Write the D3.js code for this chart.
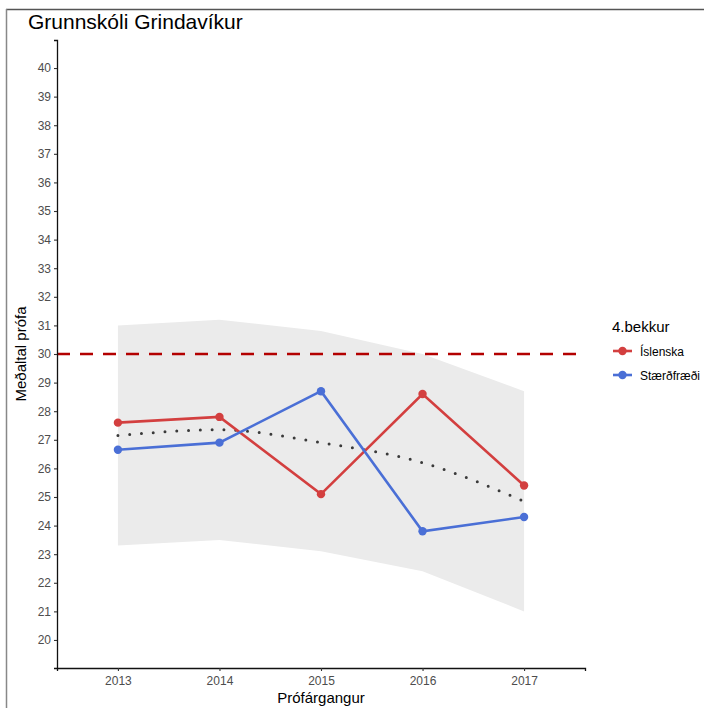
<!DOCTYPE html>
<html>
<head>
<meta charset="utf-8">
<script src="https://cdn.jsdelivr.net/npm/d3@7/dist/d3.min.js"></script>
<style>
  html, body { margin: 0; padding: 0; background: #fff; }
  svg { display: block; font-family: "Liberation Sans", Arial, sans-serif; }
</style>
</head>
<body>
<svg id="chart" width="704" height="708"></svg>
<script>
// ---- data ----
const years = [2013, 2014, 2015, 2016, 2017];
const islenska = [27.6, 27.8, 25.1, 28.6, 25.4];
const staerdfraedi = [26.65, 26.9, 28.7, 23.8, 24.3];
const smoothFit = [27.15, 27.35, 26.9, 26.2, 24.85];
const bandUpper = [31.0, 31.2, 30.8, 30.0, 28.7];
const bandLower = [23.3, 23.5, 23.1, 22.4, 21.0];
const referenceValue = 30;
const yTicks = d3.range(20, 41, 1);
const seriesNames = ["Íslenska", "Stærðfræði"];
const seriesColors = ["#d33f3f", "#4a6fd6"];

(function () {
const svg = d3.select("#chart");

// outer frame (top + left)
svg.append("line").attr("x1", 6).attr("x2", 704).attr("y1", 9.5).attr("y2", 9.5)
  .attr("stroke", "#555").attr("stroke-width", 1.5);
svg.append("line").attr("x1", 6.5).attr("x2", 6.5).attr("y1", 9).attr("y2", 708)
  .attr("stroke", "#888").attr("stroke-width", 1.5);

const pL = 57, pR = 585, pT = 40, pB = 668;
const x = d3.scaleLinear().domain([2012.4, 2017.6]).range([pL, pR]);
const y = d3.scaleLinear().domain([19.02, 40.98]).range([pB, pT]);

// ribbon
const bandData = years.map((yr, i) => ({yr, lo: bandLower[i], hi: bandUpper[i]}));
svg.append("path").datum(bandData)
  .attr("d", d3.area().x(d => x(d.yr)).y0(d => y(d.lo)).y1(d => y(d.hi)))
  .attr("fill", "#ebebeb");

// reference dashed line
svg.append("line")
  .attr("x1", x(2012.4)).attr("x2", x(2017.6))
  .attr("y1", y(referenceValue)).attr("y2", y(referenceValue))
  .attr("stroke", "#b30000").attr("stroke-width", 2.6)
  .attr("stroke-dasharray", "13,10");

// smooth dotted line
const smoothData = years.map((yr, i) => ({yr, v: smoothFit[i]}));
svg.append("path").datum(smoothData)
  .attr("d", d3.line().x(d => x(d.yr)).y(d => y(d.v)).curve(d3.curveMonotoneX))
  .attr("fill", "none").attr("stroke", "#3a3a3a").attr("stroke-width", 3)
  .attr("stroke-linecap", "round").attr("stroke-dasharray", "0,11.8");

// series
[islenska, staerdfraedi].forEach((vals, si) => {
  const data = years.map((yr, i) => ({yr, v: vals[i]}));
  svg.append("path").datum(data)
    .attr("d", d3.line().x(d => x(d.yr)).y(d => y(d.v)))
    .attr("fill", "none").attr("stroke", seriesColors[si]).attr("stroke-width", 2.6);
  svg.selectAll(null).data(data).enter().append("circle")
    .attr("cx", d => x(d.yr)).attr("cy", d => y(d.v)).attr("r", 4.2)
    .attr("fill", seriesColors[si]);
});

// axes
const yAxis = svg.append("g").attr("transform", `translate(${pL},0)`)
  .call(d3.axisLeft(y).tickValues(yTicks).tickSize(3).tickPadding(3).tickFormat(d3.format("d")));
const xAxis = svg.append("g").attr("transform", `translate(0,${pB})`)
  .call(d3.axisBottom(x).tickValues(years).tickSize(3).tickPadding(5).tickFormat(d3.format("d")));
[yAxis, xAxis].forEach(g => {
  g.select(".domain").attr("stroke", "#111").attr("stroke-width", 1.3);
  g.selectAll(".tick line").attr("stroke", "#333").attr("stroke-width", 1.1);
  g.selectAll(".tick text").attr("fill", "#4d4d4d").attr("font-size", 12)
    .attr("font-family", "'Liberation Sans', Arial, sans-serif");
});

// title
svg.append("text").attr("x", 28).attr("y", 29).attr("font-size", 21)
  .attr("fill", "#000").text("Grunnskóli Grindavíkur");

// axis labels
svg.append("text").attr("x", (pL + pR) / 2).attr("y", 703)
  .attr("text-anchor", "middle").attr("font-size", 15).text("Prófárgangur");
svg.append("text").attr("transform", `translate(26,${(pT + pB) / 2}) rotate(-90)`)
  .attr("text-anchor", "middle").attr("font-size", 15).text("Meðaltal prófa");

// legend
const lg = svg.append("g");
lg.append("text").attr("x", 612).attr("y", 332).attr("font-size", 15).text("4.bekkur");
seriesNames.forEach((name, i) => {
  const cy = 351 + i * 24;
  lg.append("line").attr("x1", 613).attr("x2", 632).attr("y1", cy).attr("y2", cy)
    .attr("stroke", seriesColors[i]).attr("stroke-width", 2.6);
  lg.append("circle").attr("cx", 622.5).attr("cy", cy).attr("r", 4.2).attr("fill", seriesColors[i]);
  lg.append("text").attr("x", 640).attr("y", cy + 4.5).attr("font-size", 12).text(name);
});
})();
</script>
</body>
</html>
